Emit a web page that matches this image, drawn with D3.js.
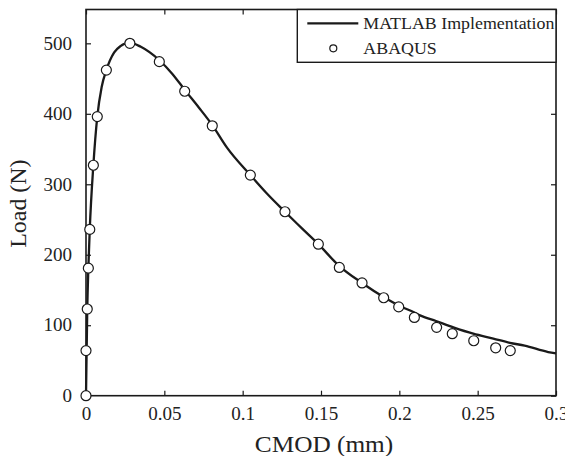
<!DOCTYPE html>
<html>
<head>
<meta charset="utf-8">
<script src="https://cdn.jsdelivr.net/npm/d3@7"></script>
<style>
  html, body { margin: 0; padding: 0; background: #fff; }
  svg text { font-family: "Liberation Serif", "Times New Roman", Times, serif; fill: #222; }
</style>
</head>
<body>
<svg id="chart" width="565" height="456"></svg>
<script>
// ---- data ----
const xTicks = [0, 0.05, 0.1, 0.15, 0.2, 0.25, 0.3];
const xTickLabels = ["0", "0.05", "0.1", "0.15", "0.2", "0.25", "0.3"];
const yTicks = [0, 100, 200, 300, 400, 500];
const yTickLabels = ["0", "100", "200", "300", "400", "500"];

// MATLAB Implementation (solid line)
const matlabCMOD = [0, 0.0008, 0.0015, 0.0024, 0.0047, 0.0072, 0.010, 0.013, 0.018, 0.022, 0.028, 0.035, 0.0468, 0.055, 0.063, 0.072, 0.0806, 0.09, 0.1049, 0.115, 0.127, 0.138, 0.1483, 0.1617, 0.1762, 0.19, 0.1996, 0.2096, 0.2132, 0.2234, 0.2345, 0.2472, 0.26, 0.2706, 0.28, 0.295, 0.3];
const matlabLoad = [0, 123, 181, 236, 327, 396, 438, 462, 487, 496, 501, 495, 476, 457, 434, 409, 384, 352, 313, 288, 261, 237, 215, 184, 160, 140, 128, 118, 114, 106, 97, 88, 81, 75, 71, 62, 60];

// ABAQUS (circles)
const abaqusCMOD = [0, 0, 0.0008, 0.0015, 0.0024, 0.0047, 0.0072, 0.013, 0.028, 0.0468, 0.063, 0.0806, 0.1049, 0.127, 0.1483, 0.1617, 0.1762, 0.19, 0.1996, 0.2096, 0.2238, 0.2338, 0.2475, 0.2615, 0.2708];
const abaqusLoad = [0, 64, 123, 181, 236, 327, 396, 462, 500, 474, 432, 383, 313, 261, 215, 182, 160, 139, 126, 111, 97, 88, 78, 68, 64];

const legendLabels = ["MATLAB Implementation", "ABAQUS"];

// ---- layout ----
const FONT = '"Liberation Serif", "Times New Roman", Times, serif';
const svg = d3.select("#chart").attr("font-family", FONT);
const L = 86, R = 556, T = 9.5, B = 395.7;
const x = d3.scaleLinear().domain([0, 0.3]).range([L, R]);
const y = d3.scaleLinear().domain([0, 548]).range([B, T]);
const ink = "#1a1a1a";
const SX = 1.06; // horizontal stretch of the reference's typeface

// axes with inward ticks
const tickLen = 5;
const gx = svg.append("g").attr("transform", `translate(0,${B})`)
  .call(d3.axisBottom(x).tickValues(xTicks).tickFormat((d, i) => xTickLabels[i]).tickSizeInner(-tickLen).tickSizeOuter(0).tickPadding(12));
const gxt = svg.append("g").attr("transform", `translate(0,${T})`)
  .call(d3.axisTop(x).tickValues(xTicks).tickFormat("").tickSizeInner(-tickLen).tickSizeOuter(0));
const gy = svg.append("g").attr("transform", `translate(${L},0)`)
  .call(d3.axisLeft(y).tickValues(yTicks).tickFormat((d, i) => yTickLabels[i]).tickSizeInner(-tickLen).tickSizeOuter(0).tickPadding(14));
const gyr = svg.append("g").attr("transform", `translate(${R},0)`)
  .call(d3.axisRight(y).tickValues(yTicks).tickFormat("").tickSizeInner(-tickLen).tickSizeOuter(0));

[gx, gxt, gy, gyr].forEach(g => {
  g.attr("font-family", FONT).attr("font-size", 18);
  g.select(".domain").remove();
  g.selectAll(".tick line").attr("stroke", ink).attr("stroke-width", 1.2);
  g.selectAll(".tick text").attr("fill", "#222")
    .attr("x", function () { return (+d3.select(this).attr("x") || 0) / SX; })
    .attr("transform", `scale(${SX},1)`);
});

// frame
svg.append("rect").attr("x", L).attr("y", T).attr("width", R - L).attr("height", B - T)
  .attr("fill", "none").attr("stroke", ink).attr("stroke-width", 1.6);

// MATLAB line
const line = d3.line().x(d => x(d[0])).y(d => y(d[1])).curve(d3.curveMonotoneX);
const matlab = matlabCMOD.map((c, i) => [c, matlabLoad[i]]);
svg.append("path").datum(matlab).attr("d", line)
  .attr("fill", "none").attr("stroke", ink).attr("stroke-width", 2.3).attr("stroke-linejoin", "round");

// ABAQUS circles
const abaqus = abaqusCMOD.map((c, i) => [c, abaqusLoad[i]]);
svg.append("g").selectAll("circle").data(abaqus).join("circle")
  .attr("cx", d => x(d[0])).attr("cy", d => y(d[1])).attr("r", 5)
  .attr("fill", "#fff").attr("stroke", ink).attr("stroke-width", 1.2);

// legend
const lg = svg.append("g");
lg.append("rect").attr("x", 297.3).attr("y", T).attr("width", R - 297.3).attr("height", 62.3 - T)
  .attr("fill", "#fff").attr("stroke", ink).attr("stroke-width", 1.4);
lg.append("line").attr("x1", 307.3).attr("x2", 358.3).attr("y1", 23.3).attr("y2", 23.3)
  .attr("stroke", ink).attr("stroke-width", 2.3);
lg.append("circle").attr("cx", 333.3).attr("cy", 48.3).attr("r", 3.5)
  .attr("fill", "#fff").attr("stroke", ink).attr("stroke-width", 1.2);
lg.selectAll("text.leg").data(legendLabels).join("text").attr("class", "leg")
  .attr("transform", (d, i) => `translate(363.3,${i === 0 ? 28.8 : 53.8}) scale(1.04,1)`)
  .attr("font-size", 17.2).text(d => d);

// axis titles
svg.append("text").attr("transform", `translate(${(L + R) / 2 + 3},451.5) scale(1.1,1)`).attr("text-anchor", "middle")
  .attr("font-size", 23).text("CMOD (mm)");
svg.append("text").attr("transform", `translate(25.5,${(T + B) / 2 + 1}) rotate(-90) scale(1.04,1)`).attr("text-anchor", "middle")
  .attr("font-size", 23).text("Load (N)");
</script>
</body>
</html>
